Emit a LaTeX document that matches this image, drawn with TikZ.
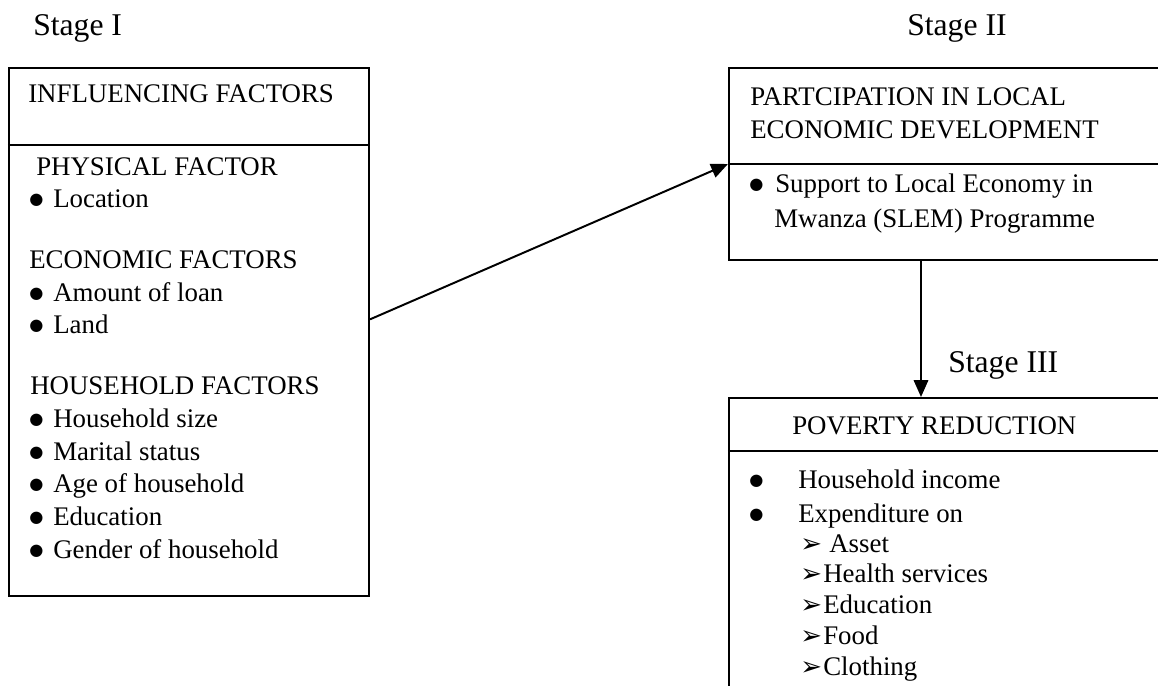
\documentclass[tikz,border=0pt]{standalone}
\usepackage{fontspec}
\setmainfont{Liberation Serif}
\newfontfamily\dingfont{DejaVu Sans}
\usetikzlibrary{arrows.meta}

\newcommand{\bul}{\raisebox{1.5pt}{\dingfont\fontsize{11.5}{11.5}\selectfont ●}}
\newcommand{\tip}{{\dingfont\fontsize{18.5}{18.5}\selectfont ➢}}

\tikzset{
    frame/.style={rectangle,draw,line width=1.4pt},
    txt/.style={anchor=base west,inner sep=0pt,font=\fontsize{19.1}{23}\selectfont},
    stagetxt/.style={anchor=base west,inner sep=0pt,font=\fontsize{22.5}{27}\selectfont},
    link/.style={line width=1.4pt,-{Triangle[length=0.42cm,width=0.36cm]}}
}

\begin{document}
\begin{tikzpicture}[x=0.025cm,y=-0.025cm]
    \useasboundingbox (0,0) rectangle (1158,685);
    \clip (0,0) rectangle (1158,685);
    % the three stage boxes
    \node at (189,332) [frame,minimum width=9cm,minimum height=13.2cm] (factors) {};
    \node at (964.5,164) [frame,minimum width=11.775cm,minimum height=4.8cm] (part) {};
    \node at (964.5,559) [frame,minimum width=11.775cm,minimum height=8.05cm] (poverty) {};
    % header lines
    \draw[line width=1.4pt] (factors.west|-0,145) -- (factors.east|-0,145);
    \coordinate (partsplit) at (part.west|-0,164);
    \draw[line width=1.4pt] (partsplit) -- (part.east|-0,164);
    \draw[line width=1.4pt] (poverty.west|-0,451) -- (poverty.east|-0,451);

    \node[stagetxt] (stage1) at (33,35) {Stage I};
    \node[stagetxt] (stage2) at (907,35) {Stage II};
    \node[stagetxt] (stage3) at (948,372) {Stage III};

    % stage I
    \node[txt] (infl) at (28,102) {INFLUENCING FACTORS};
    \node[txt] (phys) at (36,175) {PHYSICAL FACTOR};
    \node[txt] (econ) at (29,268) {ECONOMIC FACTORS};
    \node[txt] (house) at (30,394) {HOUSEHOLD FACTORS};
    \foreach \y/\A [count=\i] in {207/Location,301/Amount of loan,333/Land,
            427/Household size,460/Marital status,492/Age of household,
            525/Education,558/Gender of household} {
        \node[txt] (fitem\i) at (29,\y) {\makebox[0.6cm][l]{\bul}\A};
    }

    % stage II
    \node[txt] (partA) at (750,105) {PARTCIPATION IN LOCAL};
    \node[txt] (partB) at (750,138) {ECONOMIC DEVELOPMENT};
    \node[txt] (slemA) at (749,192) {\makebox[0.65cm][l]{\bul}Support to Local Economy in};
    \node[txt] (slemB) at (774,227) {Mwanza (SLEM) Programme};

    % stage III
    \node[txt] (pov) at (792,434) {POVERTY REDUCTION};
    \foreach \y/\A [count=\i] in {488/Household income,522/Expenditure on} {
        \node[txt] (pitem\i) at (749,\y) {\makebox[1.225cm][l]{\bul}\A};
    }
    \foreach \y/\w/\A [count=\i] in {552/0.725cm/Asset,582/0.575cm/Health services,
            613/0.575cm/Education,644/0.575cm/Food,675/0.575cm/Clothing} {
        \node[txt] (spend\i) at (800,\y) {\makebox[\w][l]{\tip}\A};
    }

    % arrows between stages
    \draw[link] (factors.4.8) -- (partsplit);
    \coordinate (drop) at (921,0);
    \draw[link] (part.south-|drop) -- (poverty.north-|drop);
\end{tikzpicture}
\end{document}
